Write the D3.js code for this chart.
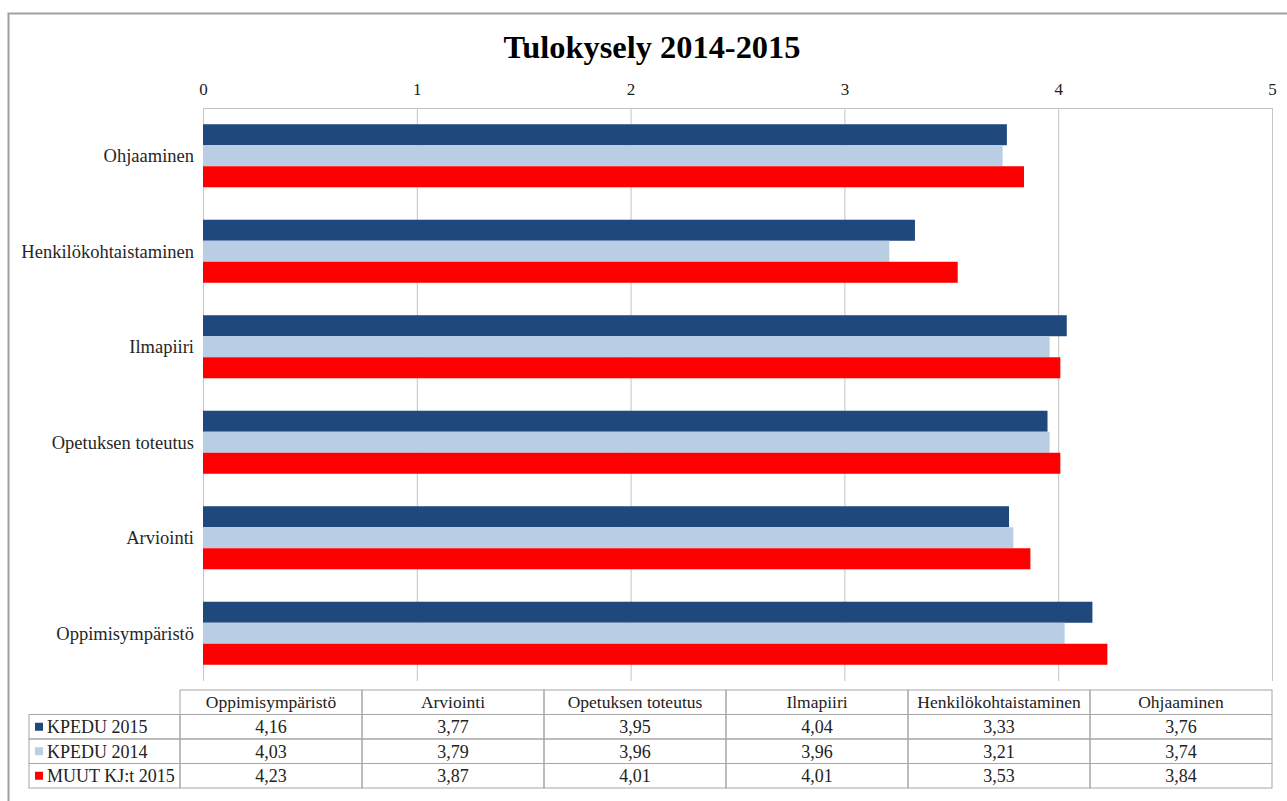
<!DOCTYPE html>
<html>
<head>
<meta charset="utf-8">
<script src="https://cdn.jsdelivr.net/npm/d3@7"></script>
<style>
  body { margin: 0; background: #fff; }
</style>
</head>
<body>
<div id="chart"></div>
<script>
// data (table values)
var categories = ["Oppimisympäristö", "Arviointi", "Opetuksen toteutus", "Ilmapiiri", "Henkilökohtaistaminen", "Ohjaaminen"];
var seriesNames = ["KPEDU 2015", "KPEDU 2014", "MUUT KJ:t 2015"];
var kpedu2015 = [4.16, 3.77, 3.95, 4.04, 3.33, 3.76];
var kpedu2014 = [4.03, 3.79, 3.96, 3.96, 3.21, 3.74];
var muut2015 = [4.23, 3.87, 4.01, 4.01, 3.53, 3.84];
var xTicks = [0, 1, 2, 3, 4, 5];
var colors = ["#1f497d", "#b9cde5", "#ff0000"];

var svgWidth = 1287;
var svgHeight = 801;
var serif = "Liberation Serif, Times New Roman, serif";

var plot = { left: 203, right: 1272, top: 108, bottom: 681 };
var table = { left: 180, legendLeft: 29, top: 690, bottom: 788 };

var allValues = [kpedu2015, kpedu2014, muut2015];
var rows = seriesNames.map(function(name, i) {
    return { name: name, color: colors[i], values: allValues[i] };
});

var fmt = function(v) { return d3.format(".2f")(v).replace(".", ","); };

var svg = d3.select("#chart")
    .append("svg")
    .attr("width", svgWidth)
    .attr("height", svgHeight)
    .attr("font-family", serif);

// outer frame
svg.append("rect")
    .attr("x", 8.5).attr("y", 13.5)
    .attr("width", 1300).attr("height", 820)
    .attr("fill", "#fff")
    .attr("stroke", "#a0a0a0")
    .attr("stroke-width", 2);

// title
svg.append("text")
    .attr("x", 652).attr("y", 58)
    .attr("text-anchor", "middle")
    .attr("font-family", serif)
    .attr("font-size", 31)
    .attr("font-weight", "bold")
    .attr("textLength", 297)
    .attr("lengthAdjust", "spacingAndGlyphs")
    .attr("fill", "#000")
    .text("Tulokysely 2014-2015");

var xScale = d3.scaleLinear()
    .domain([0, 5])
    .range([plot.left, plot.right]);

// bars top to bottom: Ohjaaminen ... Oppimisympäristö
var yScale = d3.scaleBand()
    .domain(categories.slice().reverse())
    .range([plot.top, plot.bottom])
    .paddingInner(0.34)
    .paddingOuter(0.17);

var ySub = d3.scaleBand()
    .domain(seriesNames)
    .range([0, yScale.bandwidth()]);

// gridlines
svg.append("g")
    .attr("class", "grid")
    .attr("transform", `translate(0,${plot.bottom})`)
    .call(d3.axisTop(xScale).tickValues(xTicks).tickSize(plot.bottom - plot.top).tickFormat(""))
    .call(function(g) {
        g.select(".domain").remove();
        g.selectAll("line").attr("stroke", "#c4c4c4");
    });

// plot top border (no bottom line in the original)
svg.append("line")
    .attr("x1", plot.left).attr("x2", plot.right)
    .attr("y1", plot.top + 0.5).attr("y2", plot.top + 0.5)
    .attr("stroke", "#c4c4c4");

// top axis labels
svg.append("g")
    .attr("transform", `translate(0,${plot.top})`)
    .call(d3.axisTop(xScale).tickValues(xTicks).tickSize(0).tickPadding(13).tickFormat(d3.format("d")))
    .call(function(g) {
        g.attr("font-family", serif);
        g.select(".domain").remove();
        g.selectAll("text")
            .attr("font-family", serif)
            .attr("font-size", 17)
            .attr("fill", "#222");
    });

// bars
var groups = svg.append("g")
    .selectAll("g")
    .data(categories)
    .join("g")
    .attr("transform", function(d) { return `translate(0,${yScale(d)})`; });

groups.selectAll("rect")
    .data(function(d, i) {
        return rows.map(function(r) { return { series: r.name, color: r.color, value: r.values[i] }; });
    })
    .join("rect")
    .attr("x", xScale(0))
    .attr("y", function(d) { return ySub(d.series); })
    .attr("width", function(d) { return xScale(d.value) - xScale(0); })
    .attr("height", ySub.bandwidth())
    .attr("fill", function(d) { return d.color; });

// category labels
svg.append("g")
    .selectAll("text")
    .data(categories)
    .join("text")
    .attr("x", 194)
    .attr("y", function(d) { return yScale(d) + yScale.bandwidth() / 2; })
    .attr("dy", "0.35em")
    .attr("text-anchor", "end")
    .attr("font-family", serif)
    .attr("font-size", 18.5)
    .attr("fill", "#262626")
    .text(function(d) { return d; });

// data table
var colScale = d3.scaleBand()
    .domain(categories)
    .range([table.left, plot.right]);

var rowScale = d3.scaleBand()
    .domain(["header"].concat(seriesNames))
    .range([table.top, table.bottom]);

var tbl = svg.append("g").attr("class", "table");
var lineColor = "#a6a6a6";

// header cells
tbl.selectAll(".hcell")
    .data(categories)
    .join("rect")
    .attr("class", "hcell")
    .attr("x", function(d) { return colScale(d); })
    .attr("y", rowScale("header"))
    .attr("width", colScale.bandwidth())
    .attr("height", rowScale.bandwidth())
    .attr("fill", "none")
    .attr("stroke", lineColor);

tbl.selectAll(".htext")
    .data(categories)
    .join("text")
    .attr("class", "htext")
    .attr("x", function(d) { return colScale(d) + colScale.bandwidth() / 2; })
    .attr("y", rowScale("header") + rowScale.bandwidth() / 2)
    .attr("dy", "0.35em")
    .attr("text-anchor", "middle")
    .attr("font-family", serif)
    .attr("font-size", 17.5)
    .attr("fill", "#222")
    .text(function(d) { return d; });

var rowG = tbl.selectAll(".row")
    .data(rows)
    .join("g")
    .attr("class", "row")
    .attr("transform", function(d) { return `translate(0,${rowScale(d.name)})`; });

// legend cell
rowG.append("rect")
    .attr("x", table.legendLeft)
    .attr("y", 0)
    .attr("width", table.left - table.legendLeft)
    .attr("height", rowScale.bandwidth())
    .attr("fill", "none")
    .attr("stroke", lineColor);

rowG.append("rect")
    .attr("x", 35)
    .attr("y", rowScale.bandwidth() / 2 - 4)
    .attr("width", 8).attr("height", 8)
    .attr("fill", function(d) { return d.color; });

rowG.append("text")
    .attr("x", 47)
    .attr("y", rowScale.bandwidth() / 2)
    .attr("dy", "0.35em")
    .attr("font-family", serif)
    .attr("font-size", 18)
    .attr("fill", "#222")
    .text(function(d) { return d.name; });

// value cells
rowG.selectAll(".vcell")
    .data(function(d) { return d.values.map(function(v, i) { return { cat: categories[i], value: v }; }); })
    .join("rect")
    .attr("class", "vcell")
    .attr("x", function(d) { return colScale(d.cat); })
    .attr("y", 0)
    .attr("width", colScale.bandwidth())
    .attr("height", rowScale.bandwidth())
    .attr("fill", "none")
    .attr("stroke", lineColor);

rowG.selectAll(".vtext")
    .data(function(d) { return d.values.map(function(v, i) { return { cat: categories[i], value: v }; }); })
    .join("text")
    .attr("class", "vtext")
    .attr("x", function(d) { return colScale(d.cat) + colScale.bandwidth() / 2; })
    .attr("y", rowScale.bandwidth() / 2)
    .attr("dy", "0.35em")
    .attr("text-anchor", "middle")
    .attr("font-family", serif)
    .attr("font-size", 18)
    .attr("fill", "#222")
    .text(function(d) { return fmt(d.value); });
</script>
</body>
</html>
